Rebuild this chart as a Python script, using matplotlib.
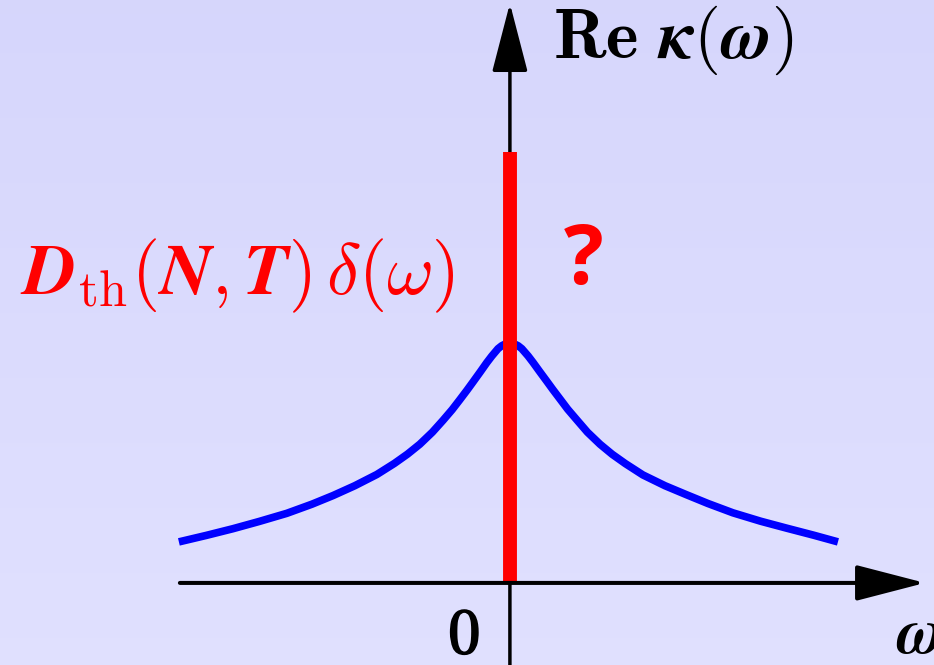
import numpy as np
import matplotlib
matplotlib.use("Agg")
import matplotlib.pyplot as plt
import matplotlib.patheffects as pe

plt.rcParams['mathtext.fontset'] = 'cm'

# Re kappa(omega): broad peak sampled by hand, peak normalised to 1
omega = [-1.003, -0.920, -0.839, -0.760, -0.676, -0.600, -0.536, -0.470,
         -0.403, -0.350, -0.310, -0.273, -0.235, -0.203, -0.175, -0.152,
         -0.130, -0.112, -0.090, -0.070, -0.055, -0.036, -0.025, -0.012,
         0.0, 0.012, 0.025, 0.036, 0.055, 0.070, 0.090, 0.112, 0.130,
         0.152, 0.175, 0.203, 0.235, 0.273, 0.310, 0.350, 0.403, 0.470,
         0.536, 0.600, 0.676, 0.760, 0.839, 0.920, 0.994]
kappa = [0.171, 0.198, 0.226, 0.256, 0.290, 0.328, 0.364, 0.405,
         0.452, 0.498, 0.537, 0.578, 0.628, 0.677, 0.722, 0.763,
         0.803, 0.837, 0.879, 0.918, 0.945, 0.976, 0.988, 0.997,
         1.0, 0.997, 0.988, 0.976, 0.946, 0.919, 0.881, 0.840, 0.806,
         0.766, 0.724, 0.679, 0.628, 0.578, 0.536, 0.497, 0.450, 0.405,
         0.367, 0.331, 0.292, 0.257, 0.228, 0.199, 0.171]

# delta-function contribution at omega = 0
delta_pos = 0.0
delta_height = 1.796

fig = plt.figure(figsize=(9.34, 6.65), dpi=100)
ax = fig.add_axes([0, 0, 1, 1])
xmin, xmax = -1.545, 1.285
ymin, ymax = -0.342, 2.429
ax.set_xlim(xmin, xmax)
ax.set_ylim(ymin, ymax)
ax.axis('off')

# soft lavender background, a bit lighter towards the bottom
top = np.array([0.840, 0.840, 0.988])
bottom = np.array([0.880, 0.880, 1.0])
t = np.linspace(0, 1, 256)[:, None]
grad = (top * (1 - t) + bottom * t)[:, None, :]
ax.imshow(grad, extent=[xmin, xmax, ymin, ymax], aspect='auto',
          origin='upper', zorder=0)

ax.plot(omega, kappa, color='blue', lw=5.5, solid_capstyle='butt',
        solid_joinstyle='round', zorder=2)

# axes with arrow heads
arrow = dict(arrowstyle='-|>,head_length=1.08,head_width=0.28',
             mutation_scale=40, color='black', lw=2.5,
             shrinkA=0, shrinkB=0)
ax.annotate('', xy=(0, 2.415), xytext=(0, ymin - 0.1),
            arrowprops=arrow, zorder=3)
ax.plot([delta_pos, delta_pos], [0, delta_height], color='red', lw=10,
        solid_capstyle='butt', zorder=4)
ax.annotate('', xy=(1.258, 0), xytext=(-1.0, 0),
            arrowprops=dict(arrow, lw=2.9), zorder=5)

bold = [pe.withStroke(linewidth=1.4, foreground='black')]

ax.text(0.130, 2.19,
        r'$\mathbf{Re}\ \boldsymbol{\kappa}\mathbf{(}\boldsymbol{\omega}\mathbf{)}$',
        fontsize=50, ha='left', va='baseline', color='black')
ax.text(-0.167, 1.204,
        r'$\mathbfit{D}_{\mathrm{th}}(\mathbfit{N},\mathbfit{T})\,\delta(\omega)$',
        fontsize=52, ha='right', va='baseline', color='red')
ax.text(0.224, 1.246, '?', fontsize=60, family='Open Sans',
        fontweight='bold', ha='center', va='baseline', color='red')
ax.text(-0.139, -0.292, r'$0$', fontsize=46, ha='center',
        va='baseline', color='black', path_effects=bold)
ax.text(1.170, -0.292, r'$\boldsymbol{\omega}$', fontsize=46, ha='left',
        va='baseline', color='black')

fig.savefig('out.png', dpi=100)
